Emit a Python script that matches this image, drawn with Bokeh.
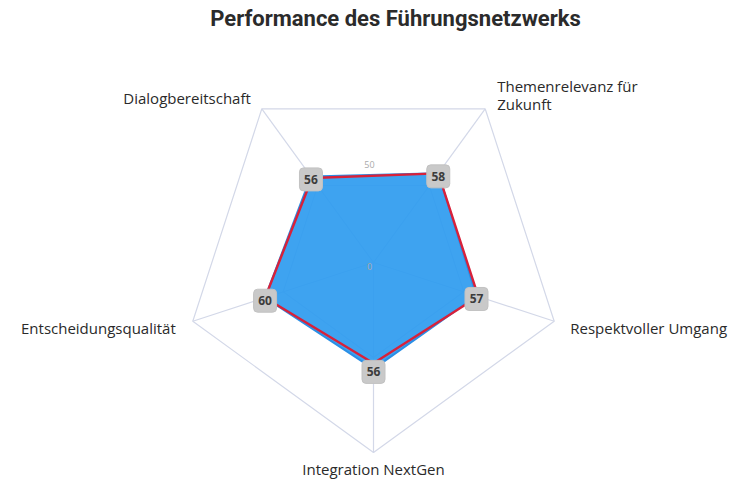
import numpy as np
from bokeh.plotting import figure
from bokeh.models import Range1d, ColumnDataSource
from bokeh.embed import file_html
from bokeh.resources import INLINE
from bokeh.core.properties import value

# ---- data ----
title_text = "Performance des Führungsnetzwerks"
indicators = ["Themenrelevanz für\nZukunft", "Respektvoller Umgang", "Integration NextGen",
              "Entscheidungsqualität", "Dialogbereitschaft"]
series_blue = [58, 57, 56, 60, 56]
series_red = [58, 58, 53, 60, 55]
axis_max = 100
ring_levels = [50, 100]
tick_values = [0, 50]

# ---- layout (screen-like coordinates) ----
W, H = 736, 481
cx, cy, R = 373, 262, 190
angles = np.deg2rad([54, -18, -90, -162, 126])

p = figure(width=W, height=H, output_backend="svg", toolbar_location=None,
           x_range=Range1d(0, W), y_range=Range1d(H, 0),
           min_border=0, outline_line_color=None, background_fill_color="white")
p.axis.visible = False
p.grid.visible = False

def pt(v, a):
    r = v / axis_max * R
    return cx + r * np.cos(a), cy - r * np.sin(a)

grid_col = "#d3d8e8"
# rings
for lv in ring_levels:
    xs, ys = zip(*[pt(lv, a) for a in angles])
    p.line(list(xs) + [xs[0]], list(ys) + [ys[0]], line_color=grid_col, line_width=1.2)
# spokes
for a in angles:
    x1, y1 = pt(axis_max, a)
    p.line([cx, x1], [cy, y1], line_color=grid_col, line_width=1.2)

# blue series
bx, by = zip(*[pt(v, a) for v, a in zip(series_blue, angles)])
p.patch(list(bx), list(by), fill_color="#2e9bef", fill_alpha=0.92,
        line_color="#2a8fe6", line_width=2)
# red series
rx, ry = zip(*[pt(v, a) for v, a in zip(series_red, angles)])
p.line(list(rx) + [rx[0]], list(ry) + [ry[0]], line_color="#d8213a", line_width=2.4,
       line_join="round")

# tick labels
for t in tick_values:
    tx, ty = pt(t, np.pi / 2)
    p.text([tx - 4], [ty + (4 if t == 0 else 0)], text=[str(t)], text_font=value("Open Sans"),
           text_font_size="9px", text_color="#aaaaaa", text_align="center",
           text_baseline="middle" if t == 0 else "bottom")

# value labels
src = ColumnDataSource(dict(x=list(bx), y=[y + 3 for y in by], t=[str(v) for v in series_blue]))
p.rect("x", "y", width=23, height=23, width_units="screen", height_units="screen",
       source=src, fill_color="#c9c9c9", line_color="#c2c2c2", border_radius=4)
p.text("x", "y", text="t", source=src, text_font=value("Open Sans"), text_font_size="12px",
       text_font_style="bold", text_color="#3c3c3c", text_align="center", text_baseline="middle")

# indicator labels
offsets = [(12, 5, "left", "bottom"), (16, 7, "left", "middle"), (0, 16, "center", "middle"),
           (-17, 7, "right", "middle"), (-11, -11, "right", "middle")]
for name, a, (dx, dy, al, bl) in zip(indicators, angles, offsets):
    x0, y0 = pt(axis_max, a)
    p.text([x0 + dx], [y0 + dy], text=[name], text_font=value("Open Sans"), text_font_size="15px",
           text_color="#2a2a2a", text_align=al, text_baseline=bl, text_line_height=0.9)

# title
p.text([395], [18], text=[title_text], text_font=value("Roboto"), text_font_size="22px",
       text_font_style="bold", text_color="#2b2b2b", text_align="center", text_baseline="middle")

open("out.html", "w").write(file_html(p, INLINE))
